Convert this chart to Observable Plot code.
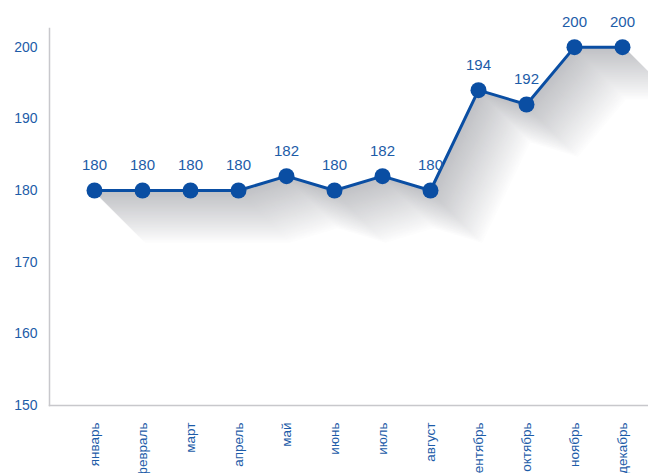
<!DOCTYPE html>
<html>
<head>
<meta charset="utf-8">
<script src="https://cdn.jsdelivr.net/npm/d3@7"></script>
<script src="https://cdn.jsdelivr.net/npm/@observablehq/plot@0.6"></script>
<style>
  html, body { margin: 0; padding: 0; background: #fff; }
  #chart svg { display: block; }
</style>
</head>
<body>
<div id="chart"></div>
<script>
const months = ["январь","февраль","март","апрель","май","июнь","июль","август","сентябрь","октябрь","ноябрь","декабрь"];
const values = [180,180,180,180,182,180,182,180,194,192,200,200];
const yTicks = [150,160,170,180,190,200];

const data = months.map((m, i) => ({month: m, value: values[i]}));

const lineColor = "#0a4ea3";
const textColor = "#1d5ca8";

// shadow extrusion layers (far to near)
const shadowSteps = 52;
const shade = d3.interpolateRgb("#ffffff", "#c0c1c5");
const shadowMarks = [];
for (let i = shadowSteps; i >= 1; i--) {
  const t = 1 - i / shadowSteps;
  shadowMarks.push(Plot.line(data, {
    x: "month", y: "value",
    dx: i, dy: i,
    stroke: shade(Math.pow(t, 0.9)),
    strokeWidth: 2.5
  }));
}

const chart = Plot.plot({
  width: 648,
  height: 473,
  marginLeft: 49,
  marginRight: 0,
  marginTop: 28,
  marginBottom: 68,
  style: {fontFamily: "'Liberation Sans', Arial, sans-serif", background: "#fff"},
  x: {type: "point", domain: months, range: [91, 624], padding: 0},
  y: {domain: [150, 202.6]},
  marks: [
    ...shadowMarks,
    Plot.frame({anchor: "left", stroke: "#c8c8cc", strokeWidth: 1.5}),
    Plot.frame({anchor: "bottom", stroke: "#c8c8cc", strokeWidth: 1.5}),
    Plot.axisY({ticks: yTicks, tickSize: 0, tickPadding: 12, fontSize: 14, fill: textColor, label: null}),
    Plot.axisX({tickSize: 0, tickRotate: -90, tickPadding: 17, fontSize: 13.5, fill: textColor, label: null}),
    Plot.line(data, {x: "month", y: "value", stroke: lineColor, strokeWidth: 3}),
    Plot.dot(data, {x: "month", y: "value", r: 8, fill: lineColor}),
    Plot.text(data, {x: "month", y: "value", text: d => String(d.value), dy: -25, fontSize: 15, fill: textColor})
  ]
});
document.getElementById("chart").append(chart);
</script>
</body>
</html>
